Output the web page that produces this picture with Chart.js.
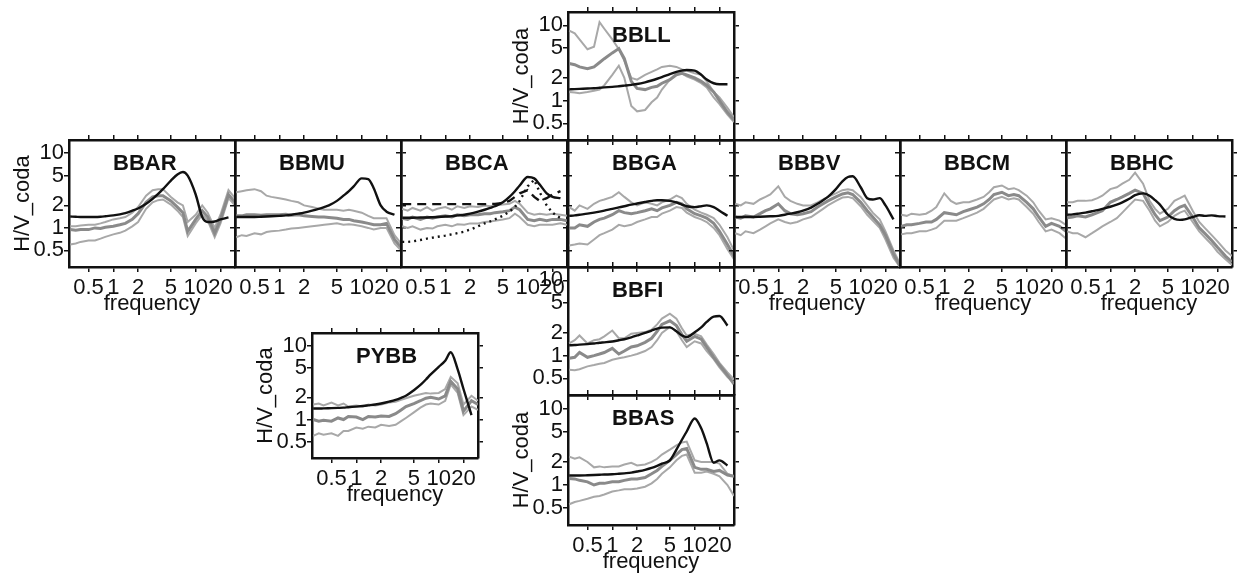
<!DOCTYPE html>
<html>
<head>
<meta charset="utf-8">
<script src="https://cdn.jsdelivr.net/npm/chart.js@4.4.0/dist/chart.umd.min.js"></script>
<style>
  body { margin: 0; background: #fff; width: 1239px; height: 579px; position: relative; overflow: hidden; }
  .panel { position: absolute; }
</style>
</head>
<body>
<script>
// Frequencies (Hz) where every curve is sampled.
const freq = [0.3, 0.35, 0.4, 0.5, 0.6, 0.7, 0.8, 1, 1.2, 1.4, 1.7, 2, 2.5, 3, 3.5, 4, 5, 6, 7, 8, 10, 12, 14, 17, 20, 25, 30];

// Tick labels of both log axes.
const xTicks = [0.5, 1, 2, 5, 10, 20];
const yTicks = [0.5, 1, 2, 5, 10];

// Per station: model curve (black), coda H/V mean and mean +/- std (grey).
const BBAR_model = [1.42, 1.41, 1.40, 1.40, 1.40, 1.41, 1.43, 1.47, 1.52, 1.58, 1.70, 1.82, 2.10, 2.45, 2.85, 3.30, 4.30, 5.20, 5.60, 5.00, 2.80, 1.40, 1.20, 1.22, 1.30, 1.38, null];
const BBAR_hi    = [1.05, 1.05, 1.08, 1.10, 1.10, 1.15, 1.20, 1.30, 1.35, 1.40, 1.60, 1.90, 2.70, 3.20, 3.30, 3.30, 2.60, 2.20, 2.00, 1.20, 1.50, 2.00, 1.60, 1.00, 1.50, 3.20, 2.50];
const BBAR_mean  = [0.95, 0.93, 0.95, 0.95, 1.00, 0.98, 1.02, 1.05, 1.10, 1.15, 1.30, 1.55, 2.20, 2.60, 2.70, 2.70, 2.30, 1.90, 1.60, 0.90, 1.30, 1.70, 1.40, 0.85, 1.30, 2.80, 2.20];
const BBAR_lo    = [0.60, 0.62, 0.65, 0.68, 0.68, 0.72, 0.76, 0.82, 0.86, 0.92, 1.05, 1.20, 1.80, 2.20, 2.35, 2.40, 2.05, 1.70, 1.40, 0.78, 1.15, 1.50, 1.25, 0.75, 1.15, 2.50, 2.00];

const BBMU_model = [1.40, 1.40, 1.40, 1.40, 1.41, 1.42, 1.43, 1.45, 1.47, 1.50, 1.55, 1.60, 1.70, 1.80, 1.90, 2.00, 2.30, 2.70, 3.10, 3.60, 4.60, 4.50, 3.40, 2.00, 1.65, 1.50, null];
const BBMU_hi    = [3.00, 3.10, 3.20, 3.30, 3.10, 2.70, 2.60, 2.50, 2.40, 2.30, 2.20, 2.00, 1.90, 1.80, 1.75, 1.75, 1.75, 1.70, 1.75, 1.70, 1.60, 1.45, 1.35, 1.35, 1.35, 0.80, 0.62];
const BBMU_mean  = [1.45, 1.45, 1.50, 1.50, 1.48, 1.50, 1.50, 1.50, 1.52, 1.48, 1.50, 1.45, 1.42, 1.40, 1.40, 1.38, 1.35, 1.30, 1.30, 1.25, 1.20, 1.15, 1.10, 1.10, 1.15, 0.70, 0.55];
const BBMU_lo    = [0.75, 0.80, 0.78, 0.85, 0.82, 0.88, 0.90, 0.92, 0.95, 0.98, 1.00, 1.02, 1.05, 1.08, 1.10, 1.12, 1.15, 1.10, 1.12, 1.10, 1.05, 1.00, 0.95, 1.00, 1.00, 0.62, 0.50];

const BBCA_model = [1.37, 1.37, 1.37, 1.38, 1.38, 1.39, 1.40, 1.42, 1.44, 1.47, 1.50, 1.55, 1.65, 1.75, 1.85, 1.95, 2.20, 2.60, 3.10, 3.70, 4.80, 4.60, 3.80, 2.90, 2.60, 2.50, null];
const BBCA_dash  = [2.08, 2.08, 2.08, 2.08, 2.08, 2.08, 2.08, 2.08, 2.08, 2.08, 2.08, 2.08, 2.08, 2.08, 2.09, 2.10, 2.15, 2.30, 2.60, 2.90, 3.20, 2.60, 2.30, 2.50, 2.80, 3.10, null];
const BBCA_dot   = [0.65, 0.65, 0.66, 0.69, 0.72, 0.74, 0.76, 0.79, 0.82, 0.85, 0.89, 0.95, 1.05, 1.15, 1.22, 1.30, 1.45, 1.65, 1.90, 2.30, 3.60, 4.40, 3.00, 2.00, 1.60, 1.35, null];
const BBCA_hi    = [1.80, 1.70, 1.85, 1.70, 1.90, 1.70, 1.80, 1.90, 1.75, 1.95, 1.85, 1.95, 1.90, 2.00, 1.95, 2.00, 2.05, 2.10, 2.30, 2.10, 1.60, 1.50, 1.55, 1.50, 1.55, 1.50, 1.45];
const BBCA_mean  = [1.35, 1.30, 1.40, 1.30, 1.40, 1.35, 1.40, 1.45, 1.40, 1.50, 1.45, 1.50, 1.50, 1.55, 1.55, 1.60, 1.65, 1.70, 1.90, 1.75, 1.30, 1.25, 1.30, 1.25, 1.30, 1.30, 1.25];
const BBCA_lo    = [1.05, 1.00, 1.05, 0.95, 1.00, 0.98, 1.05, 1.10, 1.05, 1.12, 1.10, 1.15, 1.15, 1.20, 1.22, 1.25, 1.30, 1.35, 1.55, 1.40, 1.10, 1.05, 1.10, 1.10, 1.10, 1.15, 1.10];

const BBGA_model = [1.45, 1.47, 1.50, 1.55, 1.60, 1.65, 1.70, 1.80, 1.88, 1.95, 2.05, 2.12, 2.22, 2.30, 2.35, 2.35, 2.30, 2.20, 2.05, 1.95, 1.90, 1.95, 2.00, 1.90, 1.70, 1.45, null];
const BBGA_hi    = [1.90, 1.70, 2.00, 1.80, 2.10, 2.30, 2.40, 2.60, 3.00, 2.60, 2.20, 2.00, 2.20, 2.10, 2.00, 2.20, 2.40, 2.70, 2.50, 2.10, 1.75, 1.60, 1.50, 1.35, 1.10, 0.75, 0.50];
const BBGA_mean  = [1.00, 1.00, 1.10, 1.05, 1.20, 1.30, 1.35, 1.50, 1.70, 1.60, 1.55, 1.60, 1.70, 1.80, 1.70, 1.85, 2.00, 2.20, 2.10, 1.80, 1.55, 1.45, 1.35, 1.15, 0.90, 0.60, 0.42];
const BBGA_lo    = [0.58, 0.60, 0.62, 0.60, 0.70, 0.80, 0.85, 0.95, 1.10, 1.05, 1.10, 1.20, 1.30, 1.40, 1.40, 1.55, 1.70, 1.90, 1.85, 1.60, 1.40, 1.30, 1.20, 1.00, 0.80, 0.52, 0.38];

const BBBV_model = [1.40, 1.40, 1.40, 1.40, 1.41, 1.42, 1.43, 1.45, 1.50, 1.55, 1.62, 1.70, 1.87, 2.10, 2.35, 2.60, 3.30, 4.20, 4.80, 4.90, 3.50, 2.50, 2.40, 2.50, 2.00, 1.30, null];
const BBBV_hi    = [2.10, 2.00, 2.20, 2.10, 2.40, 2.60, 2.80, 3.60, 2.60, 2.30, 2.10, 2.00, 2.00, 2.20, 2.40, 2.60, 2.90, 3.20, 3.30, 3.20, 2.60, 2.00, 1.60, 1.30, 0.90, 0.50, 0.33];
const BBBV_mean  = [1.40, 1.35, 1.45, 1.40, 1.55, 1.70, 1.80, 2.10, 1.70, 1.55, 1.50, 1.55, 1.65, 1.90, 2.10, 2.30, 2.60, 2.85, 2.95, 2.80, 2.20, 1.70, 1.40, 1.10, 0.80, 0.45, 0.31];
const BBBV_lo    = [0.85, 0.80, 0.90, 0.85, 0.95, 1.05, 1.15, 1.30, 1.20, 1.15, 1.20, 1.30, 1.40, 1.60, 1.80, 2.00, 2.30, 2.55, 2.60, 2.50, 1.95, 1.50, 1.25, 1.00, 0.70, 0.40, 0.30];

const BBCM_hi    = [1.50, 1.45, 1.55, 1.50, 1.55, 1.70, 1.90, 2.90, 2.30, 2.10, 2.20, 2.20, 2.40, 2.60, 3.00, 3.50, 3.70, 3.30, 3.40, 3.20, 2.70, 2.20, 1.70, 1.30, 1.35, 1.25, 1.10];
const BBCM_mean  = [1.05, 1.10, 1.10, 1.15, 1.20, 1.20, 1.30, 1.60, 1.55, 1.50, 1.65, 1.75, 1.90, 2.10, 2.40, 2.80, 3.00, 2.70, 2.80, 2.70, 2.20, 1.80, 1.40, 1.05, 1.15, 1.05, 0.90];
const BBCM_lo    = [0.82, 0.85, 0.85, 0.90, 0.90, 0.95, 1.00, 1.25, 1.25, 1.25, 1.35, 1.45, 1.60, 1.80, 2.10, 2.40, 2.60, 2.40, 2.50, 2.40, 1.90, 1.55, 1.20, 0.90, 0.95, 0.85, 0.72];

const BBHC_model = [1.50, 1.52, 1.55, 1.60, 1.67, 1.73, 1.80, 1.92, 2.05, 2.20, 2.45, 2.75, 2.90, 2.70, 2.35, 2.05, 1.50, 1.32, 1.28, 1.30, 1.40, 1.48, 1.45, 1.47, 1.44, 1.42, null];
const BBHC_hi    = [2.20, 2.20, 2.30, 2.30, 2.35, 2.50, 2.70, 3.30, 3.50, 3.90, 4.40, 5.50, 3.90, 2.30, 1.80, 1.55, 1.80, 2.30, 2.50, 2.70, 1.70, 1.20, 1.00, 0.80, 0.66, 0.50, 0.42];
const BBHC_mean  = [1.37, 1.40, 1.45, 1.40, 1.50, 1.60, 1.70, 2.20, 2.40, 2.60, 2.90, 3.20, 2.90, 2.00, 1.50, 1.25, 1.40, 1.70, 1.90, 2.00, 1.40, 1.00, 0.85, 0.68, 0.55, 0.42, 0.35];
const BBHC_lo    = [0.90, 0.85, 0.85, 0.75, 0.85, 0.95, 1.05, 1.20, 1.35, 1.60, 2.00, 2.40, 2.30, 1.70, 1.25, 1.05, 1.20, 1.45, 1.60, 1.70, 1.20, 0.90, 0.75, 0.60, 0.48, 0.38, 0.32];

const BBLL_model = [1.41, 1.42, 1.43, 1.45, 1.46, 1.48, 1.50, 1.52, 1.55, 1.58, 1.62, 1.66, 1.75, 1.85, 1.95, 2.05, 2.25, 2.40, 2.50, 2.55, 2.50, 2.20, 1.90, 1.70, 1.65, 1.65, null];
const BBLL_hi    = [8.50, 7.80, 6.50, 4.80, 5.20, 11.0, 9.00, 6.50, 4.80, 3.40, 2.00, 1.90, 2.20, 2.40, 2.60, 2.80, 2.90, 2.80, 2.60, 2.50, 2.30, 2.20, 1.80, 1.30, 1.10, 0.80, 0.60];
const BBLL_mean  = [3.10, 3.00, 2.80, 2.65, 2.80, 3.20, 3.60, 4.30, 4.90, 3.60, 1.80, 1.45, 1.40, 1.50, 1.55, 1.70, 1.90, 2.20, 2.30, 2.20, 2.00, 1.80, 1.60, 1.30, 1.00, 0.70, 0.55];
const BBLL_lo    = [1.30, 1.28, 1.25, 1.30, 1.35, 1.40, 1.60, 2.20, 2.90, 2.00, 0.85, 0.72, 0.75, 0.95, 1.10, 1.40, 1.90, 2.30, 2.30, 2.10, 1.90, 1.70, 1.50, 1.10, 0.90, 0.65, 0.52];

const BBFI_model = [1.37, 1.38, 1.40, 1.42, 1.45, 1.48, 1.50, 1.54, 1.60, 1.65, 1.75, 1.85, 2.00, 2.15, 2.28, 2.35, 2.37, 2.10, 1.85, 1.76, 2.04, 2.37, 2.80, 3.30, 3.35, 2.50, null];
const BBFI_hi    = [1.45, 1.60, 1.85, 1.45, 1.60, 1.65, 1.80, 2.15, 1.70, 1.70, 1.95, 2.00, 2.05, 2.20, 2.60, 3.10, 3.60, 3.10, 2.30, 1.85, 1.95, 1.80, 1.40, 1.05, 0.80, 0.60, 0.48];
const BBFI_mean  = [0.92, 0.95, 1.10, 0.95, 1.00, 1.05, 1.10, 1.25, 1.05, 1.15, 1.30, 1.35, 1.50, 1.70, 2.10, 2.60, 2.90, 2.50, 1.90, 1.55, 1.80, 1.65, 1.30, 0.95, 0.75, 0.55, 0.42];
const BBFI_lo    = [0.65, 0.64, 0.66, 0.72, 0.75, 0.78, 0.80, 0.88, 0.92, 0.95, 1.00, 1.05, 1.15, 1.30, 1.60, 2.00, 2.40, 2.10, 1.60, 1.30, 1.55, 1.45, 1.15, 0.90, 0.70, 0.52, 0.44];

const BBAS_model = [1.33, 1.33, 1.33, 1.34, 1.35, 1.36, 1.37, 1.38, 1.40, 1.42, 1.45, 1.50, 1.58, 1.67, 1.78, 1.90, 2.10, 2.90, 3.90, 5.00, 7.40, 5.50, 3.50, 1.95, 2.10, 1.80, null];
const BBAS_hi    = [2.35, 2.20, 2.30, 2.00, 1.70, 1.75, 1.70, 1.75, 1.75, 1.85, 1.95, 1.80, 1.85, 2.00, 2.20, 2.50, 2.90, 3.30, 3.60, 3.70, 2.10, 2.00, 2.00, 2.00, 1.90, 1.40, 1.30];
const BBAS_mean  = [1.22, 1.20, 1.15, 1.10, 1.00, 1.05, 1.05, 1.10, 1.10, 1.15, 1.20, 1.20, 1.25, 1.40, 1.55, 1.75, 2.10, 2.50, 2.90, 3.00, 1.70, 1.60, 1.60, 1.50, 1.55, 1.35, 1.30];
const BBAS_lo    = [0.56, 0.60, 0.62, 0.66, 0.70, 0.72, 0.75, 0.82, 0.85, 0.88, 0.88, 0.90, 0.95, 1.05, 1.20, 1.40, 1.70, 2.10, 2.40, 2.50, 1.45, 1.45, 1.50, 1.40, 1.30, 1.00, 0.72];

const PYBB_model = [1.41, 1.41, 1.42, 1.43, 1.44, 1.45, 1.47, 1.50, 1.53, 1.56, 1.60, 1.65, 1.75, 1.85, 1.97, 2.10, 2.50, 2.95, 3.50, 4.10, 5.20, 6.30, 8.20, 4.80, 2.60, 1.15, null];
const PYBB_hi    = [1.60, 1.65, 1.55, 1.70, 1.55, 1.65, 1.50, 1.55, 1.50, 1.60, 1.55, 1.60, 1.70, 1.75, 1.85, 1.95, 2.10, 2.20, 2.30, 2.25, 2.30, 2.60, 3.80, 3.10, 1.60, 2.10, 1.80];
const PYBB_mean  = [1.00, 0.95, 0.98, 0.95, 1.05, 1.00, 1.10, 1.08, 1.00, 1.10, 1.08, 1.12, 1.10, 1.20, 1.35, 1.50, 1.65, 1.80, 1.95, 2.00, 1.90, 2.10, 3.30, 2.60, 1.30, 1.80, 1.60];
const PYBB_lo    = [0.60, 0.65, 0.62, 0.65, 0.60, 0.70, 0.70, 0.78, 0.75, 0.80, 0.78, 0.85, 0.82, 0.85, 0.95, 1.05, 1.25, 1.45, 1.60, 1.65, 1.60, 1.80, 3.00, 2.30, 1.15, 1.50, 1.35];

// Page layout: each panel's plot box, and which labels it shows.
const PAD_L = 69, PAD_R = 8, PAD_T = 8, PAD_B = 50, BOX_W = 166;
const X_MIN = 0.29, X_MAX = 30, Y_MIN = 0.3, Y_MAX = 15;
const INK = '#111';
Chart.defaults.font.family = '"Liberation Sans", Arial, Helvetica, sans-serif';
Chart.defaults.color = INK;

const panels = [
  { name: 'BBAR', left: 69,   top: 140, h: 127, xLab: true,  xTitle: true,  yLab: true,  yTitle: true,  curves: [BBAR_model, BBAR_mean, BBAR_hi, BBAR_lo] },
  { name: 'BBMU', left: 235,  top: 140, h: 127, xLab: true,  xTitle: false, yLab: false, yTitle: false, curves: [BBMU_model, BBMU_mean, BBMU_hi, BBMU_lo] },
  { name: 'BBCA', left: 401,  top: 140, h: 127, xLab: true,  xTitle: false, yLab: false, yTitle: false, curves: [BBCA_model, BBCA_mean, BBCA_hi, BBCA_lo], dash: BBCA_dash, dot: BBCA_dot },
  { name: 'BBGA', left: 568,  top: 140, h: 127, xLab: false, xTitle: false, yLab: false, yTitle: false, curves: [BBGA_model, BBGA_mean, BBGA_hi, BBGA_lo] },
  { name: 'BBBV', left: 734,  top: 140, h: 127, xLab: true,  xTitle: true,  yLab: false, yTitle: false, curves: [BBBV_model, BBBV_mean, BBBV_hi, BBBV_lo] },
  { name: 'BBCM', left: 900,  top: 140, h: 127, xLab: true,  xTitle: true,  yLab: false, yTitle: false, curves: [null, BBCM_mean, BBCM_hi, BBCM_lo] },
  { name: 'BBHC', left: 1066, top: 140, h: 127, xLab: true,  xTitle: true,  yLab: false, yTitle: false, curves: [BBHC_model, BBHC_mean, BBHC_hi, BBHC_lo] },
  { name: 'BBLL', left: 568,  top: 12,  h: 128, xLab: false, xTitle: false, yLab: true,  yTitle: true,  curves: [BBLL_model, BBLL_mean, BBLL_hi, BBLL_lo] },
  { name: 'BBFI', left: 568,  top: 267, h: 128, xLab: false, xTitle: false, yLab: true,  yTitle: false, curves: [BBFI_model, BBFI_mean, BBFI_hi, BBFI_lo] },
  { name: 'BBAS', left: 568,  top: 395, h: 130, xLab: true,  xTitle: true,  yLab: true,  yTitle: true,  curves: [BBAS_model, BBAS_mean, BBAS_hi, BBAS_lo] },
  { name: 'PYBB', left: 312,  top: 333, h: 125, xLab: true,  xTitle: true,  yLab: true,  yTitle: true,  curves: [PYBB_model, PYBB_mean, PYBB_hi, PYBB_lo] }
];

// Station name written inside the box, top left.
const stationLabel = {
  id: 'stationLabel',
  afterDatasetsDraw(chart, args, opts) {
    const { ctx, chartArea } = chart;
    ctx.save();
    ctx.font = 'bold 22px "Liberation Sans", Arial, sans-serif';
    ctx.fillStyle = INK;
    ctx.textBaseline = 'alphabetic';
    ctx.fillText(opts.text, chartArea.left + 44, chartArea.top + 30);
    ctx.restore();
  }
};

function curve(vals, color, width, order, extra) {
  return Object.assign({
    data: freq.map((f, i) => ({ x: f, y: vals[i] })),
    borderColor: color,
    borderWidth: width,
    pointRadius: 0,
    fill: false,
    tension: 0,
    order: order
  }, extra || {});
}

function logAxis(position, tickVals, min, max, showLabels, titleText, size) {
  const horiz = position === 'top' || position === 'bottom';
  return {
    type: 'logarithmic',
    position: position,
    min: min,
    max: max,
    bounds: 'data',
    afterBuildTicks: s => { s.ticks = tickVals.map(v => ({ value: v })); },
    afterFit: s => {
      if (horiz) s.height = size; else s.width = size;
      s.paddingLeft = s.paddingRight = s.paddingTop = s.paddingBottom = 0;
    },
    border: { display: true, color: INK, width: 2.5 },
    grid: { drawOnChartArea: false, drawTicks: true, tickLength: 5, color: INK, lineWidth: 1.5 },
    ticks: {
      display: showLabels, autoSkip: false, maxRotation: 0, minRotation: 0,
      padding: horiz ? 3 : 0, color: INK, font: { size: 22 },
      callback: v => String(v)
    },
    title: {
      display: !!titleText, text: titleText || '', color: INK, font: { size: 22 },
      padding: horiz ? { top: 0, bottom: 0 } : { top: 10, bottom: 0 }
    }
  };
}

panels.forEach(p => {
  const w = BOX_W + PAD_L + PAD_R;
  const h = p.h + PAD_T + PAD_B;
  const box = document.createElement('div');
  box.className = 'panel';
  box.style.left = (p.left - PAD_L) + 'px';
  box.style.top = (p.top - PAD_T) + 'px';
  box.style.width = w + 'px';
  box.style.height = h + 'px';
  const cv = document.createElement('canvas');
  cv.width = w;
  cv.height = h;
  box.appendChild(cv);
  document.body.appendChild(box);

  const [model, mean, hi, lo] = p.curves;
  const datasets = [
    curve(hi, '#a8a8a8', 2, 3),
    curve(lo, '#a8a8a8', 2, 3),
    curve(mean, '#8a8a8a', 3, 2)
  ];
  if (model) datasets.push(curve(model, INK, 2.4, 0, { cubicInterpolationMode: 'monotone' }));
  if (p.dash) datasets.push(curve(p.dash, INK, 2.4, 1, { borderDash: [9, 6] }));
  if (p.dot) datasets.push(curve(p.dot, INK, 2.4, 1, { borderDash: [2, 4] }));

  new Chart(cv, {
    type: 'line',
    data: { datasets: datasets },
    options: {
      responsive: false,
      animation: false,
      layout: { padding: 0, autoPadding: false },
      plugins: {
        legend: { display: false },
        tooltip: { enabled: false },
        stationLabel: { text: p.name }
      },
      scales: {
        x: logAxis('bottom', xTicks, X_MIN, X_MAX, p.xLab, p.xTitle ? 'frequency' : '', PAD_B),
        xt: logAxis('top', xTicks, X_MIN, X_MAX, false, '', PAD_T),
        y: logAxis('left', yTicks, Y_MIN, Y_MAX, p.yLab, p.yTitle ? 'H/V_coda' : '', PAD_L),
        yr: logAxis('right', yTicks, Y_MIN, Y_MAX, false, '', PAD_R)
      }
    },
    plugins: [stationLabel]
  });
});
</script>
</body>
</html>
